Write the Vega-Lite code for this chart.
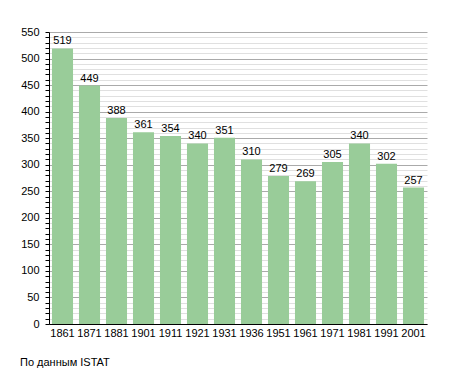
{
  "$schema": "https://vega.github.io/schema/vega-lite/v6.json",
  "width": 378,
  "height": 292,
  "autosize": {"type": "none"},
  "padding": {"left": 49, "top": 32, "right": 28, "bottom": 49},
  "background": "white",
  "config": {
    "font": "Liberation Sans",
    "view": {"stroke": null}
  },
  "title": {
    "text": "По данным ISTAT",
    "orient": "bottom",
    "anchor": "start",
    "frame": "group",
    "dx": -29,
    "offset": 19,
    "fontSize": 11,
    "fontWeight": "normal",
    "color": "#000"
  },
  "data": {
    "values": [
      {"year": "1861", "pop": 519},
      {"year": "1871", "pop": 449},
      {"year": "1881", "pop": 388},
      {"year": "1901", "pop": 361},
      {"year": "1911", "pop": 354},
      {"year": "1921", "pop": 340},
      {"year": "1931", "pop": 351},
      {"year": "1936", "pop": 310},
      {"year": "1951", "pop": 279},
      {"year": "1961", "pop": 269},
      {"year": "1971", "pop": 305},
      {"year": "1981", "pop": 340},
      {"year": "1991", "pop": 302},
      {"year": "2001", "pop": 257}
    ]
  },
  "encoding": {
    "x": {
      "field": "year",
      "type": "ordinal",
      "sort": null,
      "scale": {"paddingInner": 0.22, "paddingOuter": 0.11},
      "axis": {
        "title": null,
        "labelAngle": 0,
        "ticks": false,
        "domainColor": "#000",
        "labelColor": "#000",
        "labelFontSize": 11,
        "labelPadding": 3
      }
    },
    "y": {
      "field": "pop",
      "type": "quantitative",
      "scale": {"domain": [0, 550], "nice": false},
      "axis": {
        "title": null,
        "values": [0,10,20,30,40,50,60,70,80,90,100,110,120,130,140,150,160,170,180,190,200,210,220,230,240,250,260,270,280,290,300,310,320,330,340,350,360,370,380,390,400,410,420,430,440,450,460,470,480,490,500,510,520,530,540,550],
        "labelExpr": "datum.value % 50 === 0 ? datum.label : ''",
        "gridColor": {"condition": {"test": "datum.value % 50 === 0", "value": "#aaaaaa"}, "value": "#e0e0e0"},
        "tickColor": "#000",
        "tickSize": 4,
        "domainColor": "#000",
        "labelColor": "#000",
        "labelFontSize": 11,
        "labelPadding": 6
      }
    }
  },
  "layer": [
    {"mark": {"type": "bar", "color": "#99cc99"}},
    {
      "mark": {"type": "text", "baseline": "bottom", "dy": -2, "fontSize": 11, "color": "#000"},
      "encoding": {"text": {"field": "pop", "type": "quantitative"}}
    }
  ]
}
